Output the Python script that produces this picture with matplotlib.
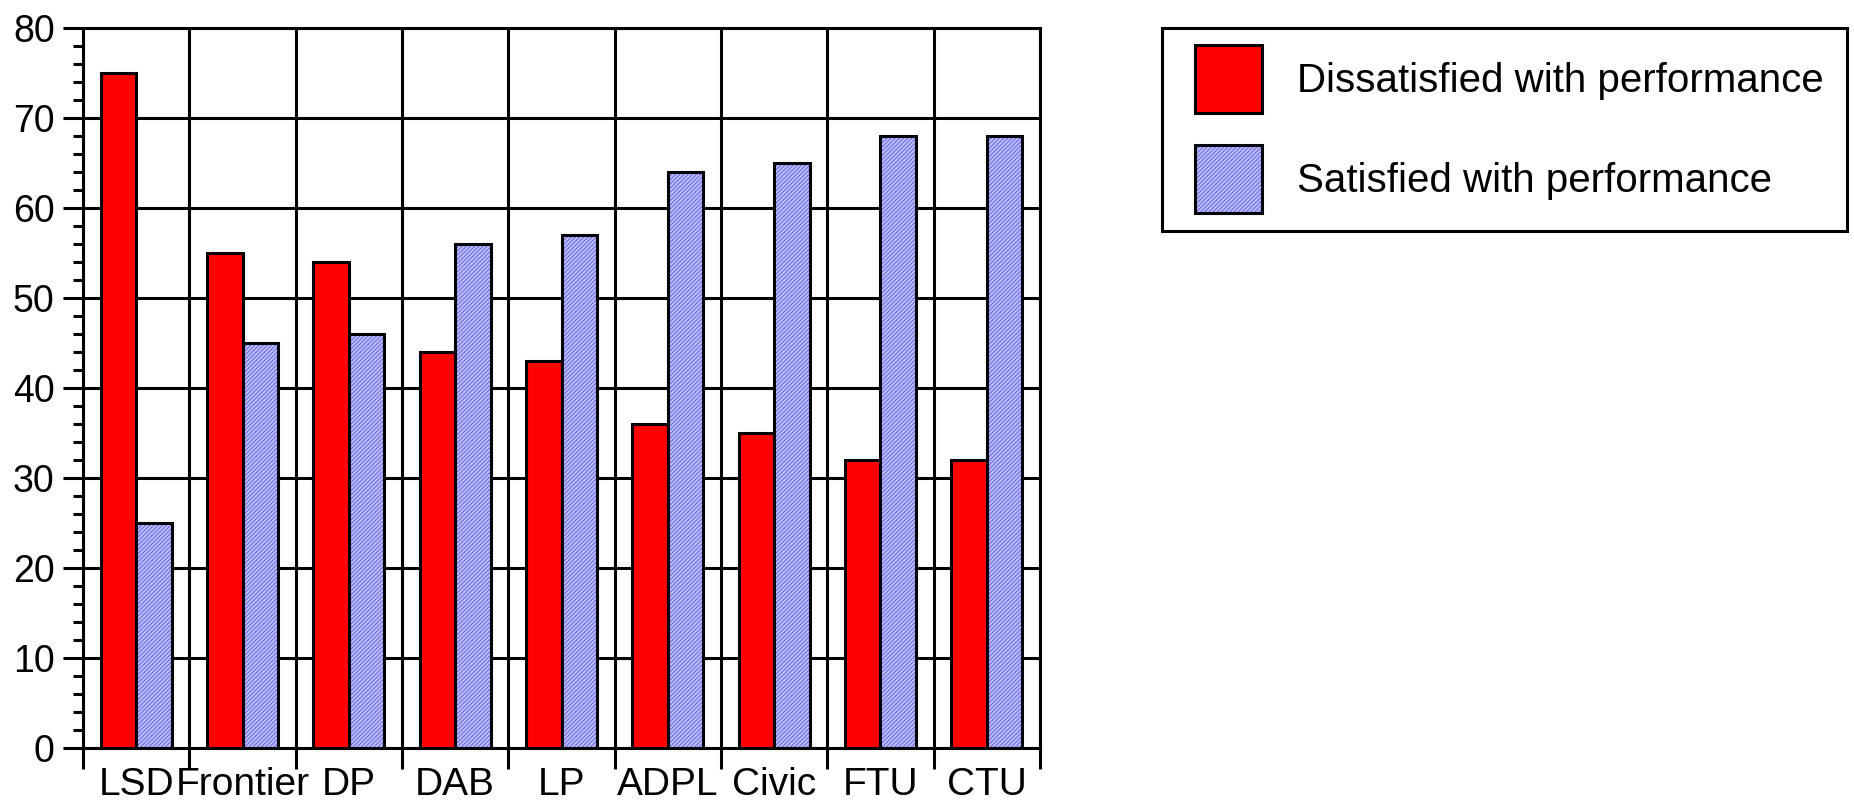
import matplotlib
matplotlib.use("Agg")
import matplotlib.pyplot as plt
from matplotlib.patches import Rectangle
import numpy as np

categories = ["LSD", "Frontier", "DP", "DAB", "LP", "ADPL", "Civic", "FTU", "CTU"]
dissatisfied = [75, 55, 54, 44, 43, 36, 35, 32, 32]
satisfied = [25, 45, 46, 56, 57, 64, 65, 68, 68]
series_labels = ["Dissatisfied with performance", "Satisfied with performance"]

plt.rcParams['font.family'] = ['Liberation Sans', 'DejaVu Sans']
plt.rcParams['hatch.linewidth'] = 0.6

W, H = 1854, 807
fig = plt.figure(figsize=(W / 100, H / 100), dpi=100)
ax = fig.add_axes([83 / W, 1 - 748 / H, (1040 - 83) / W, (748 - 28) / H])

lw = 2.2
x = np.arange(len(categories))
w = 0.335
red_bars = ax.bar(x - w / 2, dissatisfied, w, color='#ff0000', edgecolor='black', linewidth=lw, zorder=3)
blue_fill = ax.bar(x + w / 2, satisfied, w, color='#bcbcf6', edgecolor='#5a5aec', hatch='////////',
                   linewidth=0, zorder=3)
blue_edge = ax.bar(x + w / 2, satisfied, w, fill=False, edgecolor='black', linewidth=lw, zorder=4)

ax.set_xlim(-0.5, len(categories) - 0.5)
ax.set_ylim(0, 80)

# y axis ticks
ax.set_yticks(np.arange(0, 81, 10))
ax.set_yticks(np.arange(0, 81, 2), minor=True)
ax.tick_params(axis='y', which='major', length=14.4, width=lw, labelsize=27, pad=6)
ax.tick_params(axis='y', which='minor', length=7.2, width=lw)

# x axis: boundaries as major ticks, labels at centres as minor ticks
ax.set_xticks(np.arange(-0.5, len(categories), 1.0))
ax.set_xticklabels([])
ax.set_xticks(x, minor=True)
ax.set_xticklabels(categories, minor=True)
ax.tick_params(axis='x', which='major', length=15, width=lw)
ax.tick_params(axis='x', which='minor', length=0, labelsize=28, pad=13.4)

ax.grid(True, which='major', color='black', linewidth=lw, zorder=0)
ax.set_axisbelow(True)
for s in ax.spines.values():
    s.set_linewidth(lw)
    s.set_color('black')

# legend
fs = 29
F = fs * 100 / 72
hh = (68 / F - 0.245) / 0.65
leg = fig.legend([red_bars.patches[0], (blue_fill.patches[0], blue_edge.patches[0])], series_labels,
                 loc='upper left', bbox_to_anchor=(1195 / W, 1 - 45 / H), frameon=False,
                 fontsize=fs, handlelength=67 / F, handleheight=hh, labelspacing=32 / F,
                 handletextpad=35 / F, borderpad=0, borderaxespad=0)
fig.patches.append(Rectangle((1162 / W, 1 - 231 / H), (1847 - 1162) / W, (231 - 28) / H,
                             transform=fig.transFigure, fill=False, edgecolor='black',
                             linewidth=lw))

fig.savefig("out.png", dpi=100)
